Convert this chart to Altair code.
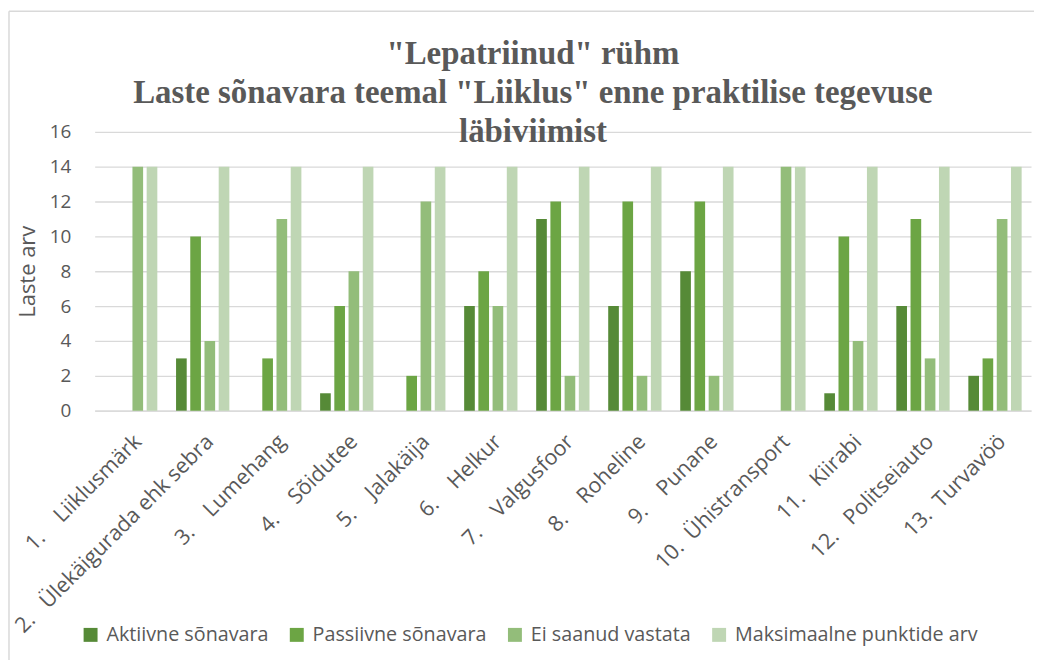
import altair as alt
import pandas as pd

NB = "\u00a0"
categories = [
    "1." + NB * 4 + "Liiklusmärk",
    "2." + NB * 3 + "Ülekäigurada ehk sebra",
    "3." + NB * 4 + "Lumehang",
    "4." + NB * 4 + "Sõidutee",
    "5." + NB * 4 + "Jalakäija",
    "6." + NB * 4 + "Helkur",
    "7." + NB * 4 + "Valgusfoor",
    "8." + NB * 4 + "Roheline",
    "9." + NB * 4 + "Punane",
    "10." + NB * 2 + "Ühistransport",
    "11." + NB * 3 + "Kiirabi",
    "12." + NB * 3 + "Politseiauto",
    "13." + NB * 2 + "Turvavöö",
]
aktiivne = [0, 3, 0, 1, 0, 6, 11, 6, 8, 0, 1, 6, 2]
passiivne = [0, 10, 3, 6, 2, 8, 12, 12, 12, 0, 10, 11, 3]
ei_saanud = [14, 4, 11, 8, 12, 6, 2, 2, 2, 14, 4, 3, 11]
maksimaalne = [14, 14, 14, 14, 14, 14, 14, 14, 14, 14, 14, 14, 14]
series = ["Aktiivne sõnavara", "Passiivne sõnavara", "Ei saanud vastata", "Maksimaalne punktide arv"]
colors = ["#568A37", "#6CA544", "#93BD7A", "#BFD6B4"]
y_ticks = [0, 2, 4, 6, 8, 10, 12, 14, 16]
title_lines = ['"Lepatriinud" rühm', 'Laste sõnavara teemal "Liiklus" enne praktilise tegevuse', "läbiviimist"]

rows = []
for s, vals in zip(series, [aktiivne, passiivne, ei_saanud, maksimaalne]):
    for c, v in zip(categories, vals):
        rows.append({"kategooria": c, "seeria": s, "väärtus": v})
df = pd.DataFrame(rows)

TXT = "#595959"
GRID = "#D9D9D9"

bars = alt.Chart(df).mark_bar().encode(
    x=alt.X(
        "kategooria:N",
        sort=categories,
        scale=alt.Scale(paddingInner=0.26, paddingOuter=0.13),
        axis=alt.Axis(
            title=None, labelAngle=-45, labelAlign="right", labelBaseline="top",
            labelPadding=20, ticks=False, tickSize=0, domainColor=GRID, domainWidth=1.3,
            labelFont="Open Sans", labelFontSize=21.5, labelColor=TXT, labelLimit=500,
            labelOverlap=False, grid=False,
        ),
    ),
    xOffset=alt.XOffset("seeria:N", sort=series, scale=alt.Scale(paddingInner=0.25, paddingOuter=0)),
    y=alt.Y(
        "väärtus:Q",
        scale=alt.Scale(domain=[0, 16], nice=False),
        axis=alt.Axis(
            title="Laste arv", values=y_ticks, grid=True, gridColor=GRID, gridWidth=1.3,
            domain=False, ticks=False, tickSize=0, labelPadding=24,
            labelFont="Open Sans", labelFontSize=19, labelColor=TXT,
            titleFont="Open Sans", titleFontSize=22, titleColor=TXT, titleFontWeight="normal",
            titleX=-67, titleY=140, titleAngle=270, titleAlign="center", titleBaseline="middle",
        ),
    ),
    color=alt.Color(
        "seeria:N",
        sort=series,
        scale=alt.Scale(domain=series, range=colors),
        legend=alt.Legend(
            title=None, orient="none", legendX=-14, legendY=495, direction="horizontal",
            symbolType="square", symbolSize=196, symbolStrokeWidth=0, symbolOpacity=1,
            labelFont="Open Sans", labelFontSize=19.8, labelColor=TXT, labelOffset=6,
            columnPadding=18, labelLimit=500,
        ),
    ),
)

frame_df = pd.DataFrame({"k": [0]})
left_edge = alt.Chart(frame_df).mark_rule(color=GRID, strokeWidth=1.5).encode(
    x=alt.value(-86), y=alt.value(-121), y2=alt.value(600)
)
top_edge = alt.Chart(frame_df).mark_rule(color=GRID, strokeWidth=1.5).encode(
    x=alt.value(-86), x2=alt.value(1000), y=alt.value(-121)
)

chart = alt.layer(left_edge, top_edge, bars).properties(
    width=940,
    height=280,
    padding={"left": 87, "top": 123, "right": 3, "bottom": 249},
    autosize=alt.AutoSizeParams(type="none"),
    background="white",
    title=alt.TitleParams(
        text=title_lines, font="Liberation Serif", fontSize=33, fontWeight="bold",
        color=TXT, lineHeight=39, anchor="middle", frame="group", dx=-30, offset=0, dy=139,
    ),
).configure_view(stroke=None)

chart.save("out.html", embed_options={"renderer": "svg", "actions": False})
